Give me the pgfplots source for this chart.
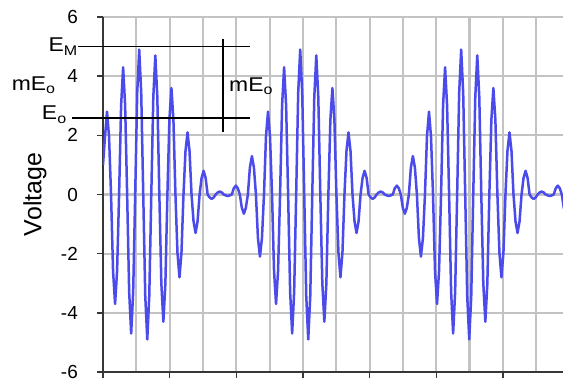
\documentclass[border=0pt]{standalone}
\usepackage{fontspec}
\setmainfont{Liberation Sans}
\usepackage{pgfplots}
\pgfplotsset{compat=1.18}
\definecolor{sig}{RGB}{75,75,235}
\definecolor{axc}{RGB}{55,55,55}
\definecolor{gridc}{RGB}{195,195,195}
\begin{document}
\begin{tikzpicture}
\path[use as bounding box] (-103bp,-11bp) rectangle (460bp,372bp);
\begin{axis}[
  at={(0,0)}, anchor=south west,
  scale only axis, width=460bp, height=355bp,
  xmin=0, xmax=228.6, ymin=-6, ymax=6,
  axis x line=bottom, axis y line=left,
  axis line style={-, draw=axc, line width=1.6bp},
  xtick={0,33.12,66.25,99.37,132.5,165.62,198.74},
  xticklabels={},
  minor xtick={16.56,49.69,82.81,115.93,149.06,182.18,215.3},
  ytick={-6,-4,-2,0,2,4,6},
  yticklabels={-6,-4,-2,0,2,4,6},
  tick align=outside,
  major tick length=6bp, minor tick length=0pt,
  tick style={draw=axc, line width=1.4bp},
  xmajorgrids, xminorgrids, ymajorgrids,
  major grid style={draw=gridc, line width=2.2bp},
  minor grid style={draw=gridc, line width=2.2bp},
  yticklabel style={font=\fontsize{19}{21}\selectfont, inner sep=0pt, xshift=-19bp},
  clip mode=individual,
]
\addplot[sig, line width=2.5bp, line join=round] table {
x y
0 1.0
1 1.96
2 2.8
3 1.96
4 0
5 -2.59
6 -3.7
7 -2.59
8 0
9 3.01
10 4.3
11 3.01
12 0
13 -3.29
14 -4.7
15 -3.29
16 0
17 3.43
18 4.9
19 3.43
20 0
21 -3.43
22 -4.9
23 -3.43
24 0
25 3.29
26 4.7
27 3.29
28 0
29 -3.01
30 -4.3
31 -3.01
32 0
33 2.52
34 3.6
35 2.52
36 0
37 -1.96
38 -2.8
39 -1.96
40 0
41 1.47
42 2.1
43 1.47
44 0
45 -0.91
46 -1.3
47 -0.91
48 0
49 0.56
50 0.8
51 0.56
52 0
53 -0.1
54 -0.15
55 -0.1
56 0
57 0.07
58 0.1
59 0.07
60 0
61 -0.03
62 -0.05
63 -0.03
64 0
65 0.21
66 0.3
67 0.21
68 0
69 -0.45
70 -0.65
71 -0.45
72 0
73 0.91
74 1.3
75 0.91
76 0
77 -1.47
78 -2.1
79 -1.47
80 0
81 1.96
82 2.8
83 1.96
84 0
85 -2.59
86 -3.7
87 -2.59
88 0
89 3.01
90 4.3
91 3.01
92 0
93 -3.29
94 -4.7
95 -3.29
96 0
97 3.43
98 4.9
99 3.43
100 0
101 -3.43
102 -4.9
103 -3.43
104 0
105 3.29
106 4.7
107 3.29
108 0
109 -3.01
110 -4.3
111 -3.01
112 0
113 2.52
114 3.6
115 2.52
116 0
117 -1.96
118 -2.8
119 -1.96
120 0
121 1.47
122 2.1
123 1.47
124 0
125 -0.91
126 -1.3
127 -0.91
128 0
129 0.56
130 0.8
131 0.56
132 0
133 -0.1
134 -0.15
135 -0.1
136 0
137 0.07
138 0.1
139 0.07
140 0
141 -0.03
142 -0.05
143 -0.03
144 0
145 0.21
146 0.3
147 0.21
148 0
149 -0.45
150 -0.65
151 -0.45
152 0
153 0.91
154 1.3
155 0.91
156 0
157 -1.47
158 -2.1
159 -1.47
160 0
161 1.96
162 2.8
163 1.96
164 0
165 -2.59
166 -3.7
167 -2.59
168 0
169 3.01
170 4.3
171 3.01
172 0
173 -3.29
174 -4.7
175 -3.29
176 0
177 3.43
178 4.9
179 3.43
180 0
181 -3.43
182 -4.9
183 -3.43
184 0
185 3.29
186 4.7
187 3.29
188 0
189 -3.01
190 -4.3
191 -3.01
192 0
193 2.52
194 3.6
195 2.52
196 0
197 -1.96
198 -2.8
199 -1.96
200 0
201 1.47
202 2.1
203 1.47
204 0
205 -0.91
206 -1.3
207 -0.91
208 0
209 0.56
210 0.8
211 0.56
212 0
213 -0.1
214 -0.15
215 -0.1
216 0
217 0.07
218 0.1
219 0.07
220 0
221 -0.03
222 -0.05
223 -0.03
224 0
225 0.21
226 0.3
227 0.21
228 0
229 -0.45
230 -0.65
};
\draw[black, line width=1.7bp] (axis cs:-12.4,5) -- (axis cs:73,5);
\draw[black, line width=1.7bp] (axis cs:-15.4,2.58) -- (axis cs:73,2.58);
\draw[black, line width=1.7bp] (axis cs:59.6,5.26) -- (axis cs:59.6,2.11);
\node[anchor=base east, inner sep=0pt, xscale=1.15, font=\fontsize{20}{22}\selectfont] at (axis cs:-12.4,4.82) {E\textsubscript{M}};
\node[anchor=base east, inner sep=0pt, xscale=1.15, font=\fontsize{20}{22}\selectfont] at (axis cs:-23.4,3.53) {mE\textsubscript{o}};
\node[anchor=base east, inner sep=0pt, xscale=1.15, font=\fontsize{20}{22}\selectfont] at (axis cs:-17.9,2.52) {E\textsubscript{o}};
\node[anchor=base west, inner sep=0pt, xscale=1.15, font=\fontsize{20}{22}\selectfont] at (axis cs:62.6,3.47) {mE\textsubscript{o}};
\node[rotate=90, inner sep=0pt, font=\fontsize{25}{28}\selectfont] at (axis cs:-33.8,0) {Voltage};
\end{axis}
\end{tikzpicture}
\end{document}
